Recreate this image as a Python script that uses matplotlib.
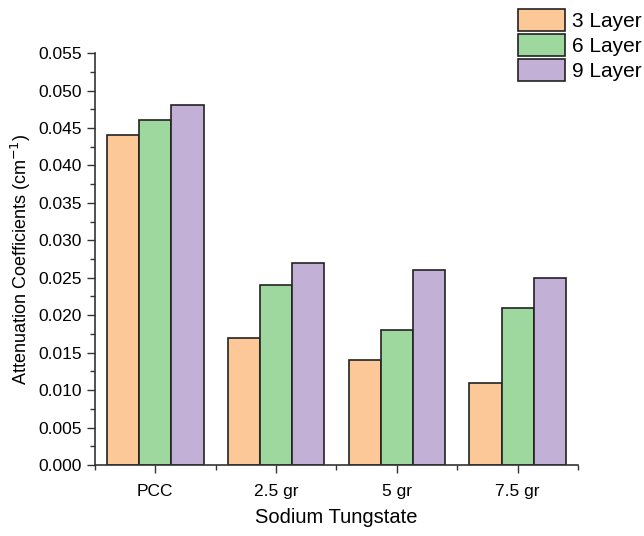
import numpy as np
import matplotlib.pyplot as plt
from matplotlib.ticker import MultipleLocator

categories = ["PCC", "2.5 gr", "5 gr", "7.5 gr"]
layer3 = [0.044, 0.017, 0.014, 0.011]
layer6 = [0.046, 0.024, 0.018, 0.021]
layer9 = [0.048, 0.027, 0.026, 0.025]
labels = ["3 Layer", "6 Layer", "9 Layer"]
colors = ["#FDC897", "#9ED89E", "#C2B0D7"]

plt.rcParams['font.family'] = ['Liberation Sans', 'DejaVu Sans']

fig = plt.figure(figsize=(6.44, 5.36), dpi=100)
ax = fig.add_axes([0.1475, 0.1325, 0.75, 0.7685])

x = np.arange(len(categories))
w = 0.8 / 3
for i, vals in enumerate([layer3, layer6, layer9]):
    ax.bar(x + (i - 1) * w, vals, w, color=colors[i], edgecolor="#222222",
           linewidth=1.2, label=labels[i])

ax.set_xlim(-0.5, 3.5)
ax.set_ylim(0, 0.055)
ax.set_xticks(x)
ax.set_xticklabels(categories)
ax.xaxis.set_minor_locator(MultipleLocator(1, offset=0.5))
ax.yaxis.set_major_locator(MultipleLocator(0.005))
ax.yaxis.set_minor_locator(MultipleLocator(0.0025))
ax.yaxis.set_major_formatter(plt.FormatStrFormatter("%.3f"))
ax.tick_params(which="major", length=6, width=1, labelsize=12.5, color="#333333")
ax.tick_params(which="minor", length=3.5, width=1, color="#333333")
ax.tick_params(axis="x", pad=8)
ax.spines["top"].set_visible(False)
ax.spines["right"].set_visible(False)
for s in ["left", "bottom"]:
    ax.spines[s].set_linewidth(1.2)
    ax.spines[s].set_color("#333333")

ax.set_xlabel("Sodium Tungstate", fontsize=14.5, labelpad=6)
ax.set_ylabel("Attenuation Coefficients (cm$^{-1}$)", fontsize=13, labelpad=4)

fig.legend(loc="upper right", bbox_to_anchor=(1.025, 1.018), frameon=False,
           fontsize=15, handlelength=2.3, handleheight=1.25,
           labelspacing=0.15, handletextpad=0.3)

fig.savefig("out.png", dpi=100)
